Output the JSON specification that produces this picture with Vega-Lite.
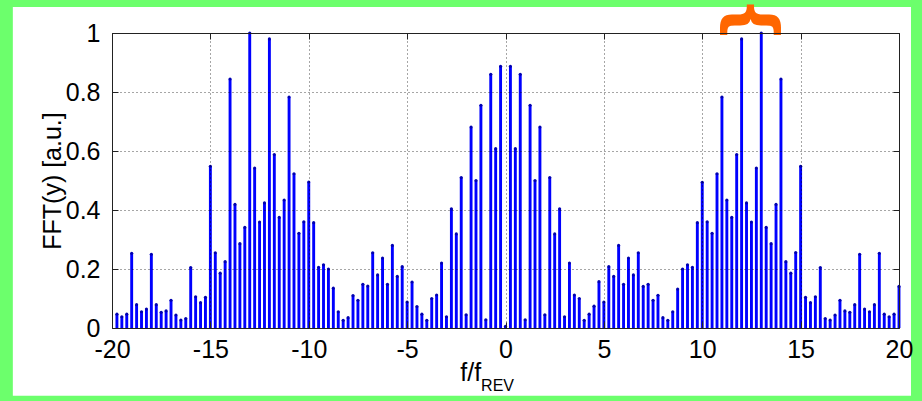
{
  "$schema": "https://vega.github.io/schema/vega-lite/v6.json",
  "width": 787,
  "height": 295,
  "autosize": {"type": "none"},
  "padding": {"left": 112, "top": 33, "right": 23, "bottom": 73},
  "background": "#6cff6c",
  "config": {
    "view": {"stroke": null, "fill": "white"},
    "font": "Liberation Sans"
  },
  "data": {"values": [
    {"f":-19.75,"a":0.047},{"f":-19.5,"a":0.038},{"f":-19.25,"a":0.047},{"f":-19,"a":0.253},
    {"f":-18.75,"a":0.079},{"f":-18.5,"a":0.055},{"f":-18.25,"a":0.064},{"f":-18,"a":0.25},
    {"f":-17.75,"a":0.079},{"f":-17.5,"a":0.053},{"f":-17.25,"a":0.058},{"f":-17,"a":0.094},
    {"f":-16.75,"a":0.044},{"f":-16.5,"a":0.027},{"f":-16.25,"a":0.032},{"f":-16,"a":0.205},
    {"f":-15.75,"a":0.106},{"f":-15.5,"a":0.086},{"f":-15.25,"a":0.104},{"f":-15,"a":0.548},
    {"f":-14.75,"a":0.255},{"f":-14.5,"a":0.186},{"f":-14.25,"a":0.225},{"f":-14,"a":0.844},
    {"f":-13.75,"a":0.419},{"f":-13.5,"a":0.286},{"f":-13.25,"a":0.341},{"f":-13,"a":1.0},
    {"f":-12.75,"a":0.542},{"f":-12.5,"a":0.359},{"f":-12.25,"a":0.424},{"f":-12,"a":0.98},
    {"f":-11.75,"a":0.588},{"f":-11.5,"a":0.375},{"f":-11.25,"a":0.434},{"f":-11,"a":0.783},
    {"f":-10.75,"a":0.523},{"f":-10.5,"a":0.321},{"f":-10.25,"a":0.36},{"f":-10,"a":0.495},
    {"f":-9.75,"a":0.357},{"f":-9.5,"a":0.206},{"f":-9.25,"a":0.214},{"f":-9,"a":0.2},
    {"f":-8.75,"a":0.135},{"f":-8.5,"a":0.055},{"f":-8.25,"a":0.026},{"f":-8,"a":0.035},
    {"f":-7.75,"a":0.11},{"f":-7.5,"a":0.094},{"f":-7.25,"a":0.148},{"f":-7,"a":0.142},
    {"f":-6.75,"a":0.255},{"f":-6.5,"a":0.18},{"f":-6.25,"a":0.237},{"f":-6,"a":0.148},
    {"f":-5.75,"a":0.28},{"f":-5.5,"a":0.175},{"f":-5.25,"a":0.208},{"f":-5,"a":0.088},
    {"f":-4.75,"a":0.156},{"f":-4.5,"a":0.073},{"f":-4.25,"a":0.047},{"f":-4,"a":0.026},
    {"f":-3.75,"a":0.1},{"f":-3.5,"a":0.112},{"f":-3.25,"a":0.22},{"f":-3,"a":0.038},
    {"f":-2.75,"a":0.404},{"f":-2.5,"a":0.319},{"f":-2.25,"a":0.51},{"f":-2,"a":0.045},
    {"f":-1.75,"a":0.681},{"f":-1.5,"a":0.5},{"f":-1.25,"a":0.755},{"f":-1,"a":0.028},
    {"f":-0.75,"a":0.86},{"f":-0.5,"a":0.608},{"f":-0.25,"a":0.887},{"f":0,"a":0.006},
    {"f":0.25,"a":0.887},{"f":0.5,"a":0.608},{"f":0.75,"a":0.86},{"f":1,"a":0.028},
    {"f":1.25,"a":0.755},{"f":1.5,"a":0.5},{"f":1.75,"a":0.681},{"f":2,"a":0.045},
    {"f":2.25,"a":0.51},{"f":2.5,"a":0.319},{"f":2.75,"a":0.404},{"f":3,"a":0.038},
    {"f":3.25,"a":0.22},{"f":3.5,"a":0.112},{"f":3.75,"a":0.1},{"f":4,"a":0.026},
    {"f":4.25,"a":0.047},{"f":4.5,"a":0.074},{"f":4.75,"a":0.157},{"f":5,"a":0.088},
    {"f":5.25,"a":0.208},{"f":5.5,"a":0.175},{"f":5.75,"a":0.28},{"f":6,"a":0.148},
    {"f":6.25,"a":0.237},{"f":6.5,"a":0.18},{"f":6.75,"a":0.255},{"f":7,"a":0.141},
    {"f":7.25,"a":0.148},{"f":7.5,"a":0.094},{"f":7.75,"a":0.111},{"f":8,"a":0.035},
    {"f":8.25,"a":0.026},{"f":8.5,"a":0.055},{"f":8.75,"a":0.132},{"f":9,"a":0.2},
    {"f":9.25,"a":0.214},{"f":9.5,"a":0.206},{"f":9.75,"a":0.357},{"f":10,"a":0.494},
    {"f":10.25,"a":0.36},{"f":10.5,"a":0.321},{"f":10.75,"a":0.523},{"f":11,"a":0.783},
    {"f":11.25,"a":0.434},{"f":11.5,"a":0.375},{"f":11.75,"a":0.588},{"f":12,"a":0.98},
    {"f":12.25,"a":0.424},{"f":12.5,"a":0.359},{"f":12.75,"a":0.542},{"f":13,"a":1.0},
    {"f":13.25,"a":0.341},{"f":13.5,"a":0.286},{"f":13.75,"a":0.419},{"f":14,"a":0.844},
    {"f":14.25,"a":0.225},{"f":14.5,"a":0.186},{"f":14.75,"a":0.256},{"f":15,"a":0.548},
    {"f":15.25,"a":0.104},{"f":15.5,"a":0.086},{"f":15.75,"a":0.106},{"f":16,"a":0.205},
    {"f":16.25,"a":0.032},{"f":16.5,"a":0.027},{"f":16.75,"a":0.044},{"f":17,"a":0.094},
    {"f":17.25,"a":0.058},{"f":17.5,"a":0.053},{"f":17.75,"a":0.079},{"f":18,"a":0.25},
    {"f":18.25,"a":0.064},{"f":18.5,"a":0.055},{"f":18.75,"a":0.079},{"f":19,"a":0.253},
    {"f":19.25,"a":0.047},{"f":19.5,"a":0.038},{"f":19.75,"a":0.047},{"f":20,"a":0.141}
  ]},
  "layer": [
    {
      "data": {"values": [{}]},
      "mark": {"type": "rect", "fill": "white"},
      "encoding": {
        "x": {"datum": -25.04, "type": "quantitative", "axis": null},
        "x2": {"datum": 20.61},
        "y": {"datum": -0.23, "type": "quantitative", "axis": null},
        "y2": {"datum": 1.088}
      }
    },
    {
      "mark": {"type": "rule", "color": "#0000ff", "strokeWidth": 2.9},
      "encoding": {
        "x": {
          "field": "f", "type": "quantitative",
          "scale": {"domain": [-20, 20], "nice": false, "zero": false},
          "axis": {
            "orient": "bottom", "values": [-20, -15, -10, -5, 0, 5, 10, 15, 20],
            "grid": true, "gridDash": [1, 3], "gridColor": "#000", "gridOpacity": 0.7,
            "tickSize": -6, "tickColor": "#222", "domainColor": "#222",
            "labelFont": "Liberation Sans", "labelFontSize": 25, "labelColor": "#000",
            "labelPadding": 15, "labelExpr": "datum.value + ''", "labelFlush": false,
            "title": null, "zindex": 1
          }
        },
        "y": {
          "field": "a", "type": "quantitative",
          "scale": {"domain": [0, 1], "nice": false},
          "axis": {
            "orient": "left", "values": [0, 0.2, 0.4, 0.6, 0.8, 1],
            "grid": true, "gridDash": [1, 3], "gridColor": "#000", "gridOpacity": 0.7,
            "tickSize": -6, "tickColor": "#222", "domainColor": "#222",
            "labelFont": "Liberation Sans", "labelFontSize": 25, "labelColor": "#000",
            "labelPadding": 18, "format": "~g", "labelFlush": false,
            "title": "FFT(y) [a.u.]", "titleFont": "Liberation Sans", "titleFontSize": 25,
            "titleFontWeight": "normal", "titleColor": "#000", "titlePadding": 0, "zindex": 1
          }
        },
        "y2": {"datum": 0}
      }
    },
    {
      "mark": {"type": "point", "filled": true, "color": "#0000b0", "size": 10, "opacity": 1},
      "encoding": {
        "x": {"field": "f", "type": "quantitative",
          "axis": {"orient": "top", "values": [-20, -15, -10, -5, 0, 5, 10, 15, 20], "labels": false, "grid": false, "tickSize": -6, "tickColor": "#222", "domainColor": "#222", "title": null, "zindex": 1}},
        "y": {"field": "a", "type": "quantitative",
          "axis": {"orient": "right", "values": [0, 0.2, 0.4, 0.6, 0.8, 1], "labels": false, "grid": false, "tickSize": -6, "tickColor": "#222", "domainColor": "#222", "title": null, "zindex": 1}}
      }
    },
    {
      "data": {"values": [{}]},
      "mark": {"type": "text", "text": "{", "angle": 90, "align": "center", "baseline": "middle", "font": "DejaVu Sans", "fontWeight": "bold", "fontSize": 66, "color": "#ff6600"},
      "encoding": {
        "x": {"datum": 12.5, "type": "quantitative", "axis": null},
        "y": {"datum": 1.045, "type": "quantitative", "axis": null}
      }
    },
    {
      "data": {"values": [{}]},
      "mark": {"type": "text", "text": "f/f", "align": "right", "baseline": "middle", "font": "Liberation Sans", "fontSize": 25, "color": "#000"},
      "encoding": {
        "x": {"datum": -1.24, "type": "quantitative", "axis": null},
        "y": {"datum": -0.152, "type": "quantitative", "axis": null}
      }
    },
    {
      "data": {"values": [{}]},
      "mark": {"type": "text", "text": "REV", "align": "left", "baseline": "middle", "font": "Liberation Sans", "fontSize": 16, "color": "#000"},
      "encoding": {
        "x": {"datum": -1.24, "type": "quantitative", "axis": null},
        "y": {"datum": -0.196, "type": "quantitative", "axis": null}
      }
    }
  ]
}
